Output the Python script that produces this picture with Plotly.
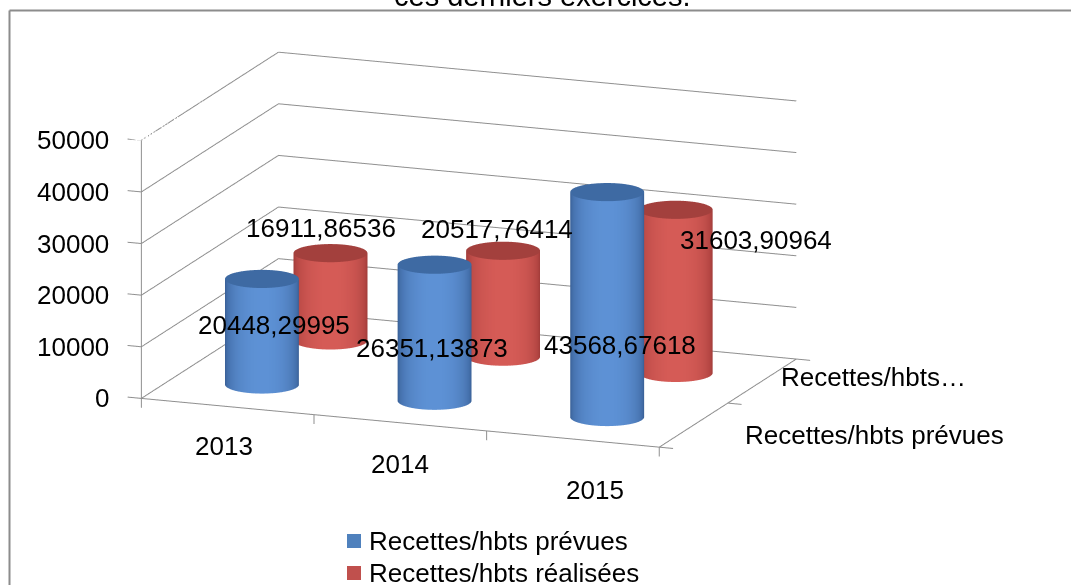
import numpy as np
import plotly.graph_objects as go

# ---------------- data ----------------
categories = ["2013", "2014", "2015"]
series_names = ["Recettes/hbts prévues", "Recettes/hbts réalisées"]
series_colors = ["#4F81BD", "#C0504D"]
depth_labels = ["Recettes/hbts prévues", "Recettes/hbts…"]
prevues = [20448.29995, 26351.13873, 43568.67618]
realisees = [16911.86536, 20517.76414, 31603.90964]
value_ticks = [0, 10000, 20000, 30000, 40000, 50000]
title_text = "ces derniers exercices."

# ---------------- scene frame / camera (orthographic, Excel-like 3-D rotation) ----------------
W, H = 1071, 585
XR = (-0.1, 3.1)          # category axis range (categories at 0.5, 1.5, 2.5)
YR = (0.0, 2.0)           # series (depth) axis range
ZR = (-2500.0, 50000.0)   # value axis range
THETA, PHI, DIST = 0.3655, 0.2486, 2.5
CEN = np.array([0.1947, 0.1288, -0.1412])
AX, AY, AZ = 2.0220, 1.3111, 0.9559
EYE = CEN + DIST * np.array([np.cos(PHI) * np.sin(THETA), -np.cos(PHI) * np.cos(THETA), np.sin(PHI)])

# ---------------- cylinders ----------------
RX = 0.2  # cylinder radius in category units


def shade(dark, light, t):
    t = np.clip(t, 0, 1) ** 0.8
    out = []
    for v in t:
        c = [int(d + (l - d) * v) for d, l in zip(dark, light)]
        out.append(f"rgb({c[0]},{c[1]},{c[2]})")
    return out


def series_mesh(values, ypos, dark, light, top, n=72):
    xs, ys, zs, I, J, Kk, cols = [], [], [], [], [], [], []
    rm = RX * AX / (XR[1] - XR[0])          # radius in scene units (round in the scene)
    ang = np.linspace(0, 2 * np.pi, n, endpoint=False)
    a_cam = np.arctan2(EYE[1] - CEN[1], EYE[0] - CEN[0])
    for ci, v in enumerate(values):
        xc = ci + 0.5
        dx = rm * np.cos(ang) * (XR[1] - XR[0]) / AX
        dy = rm * np.sin(ang) * (YR[1] - YR[0]) / AY
        o = len(xs)
        ring_c = shade(dark, light, np.cos(ang - a_cam))
        for zz in (0.0, v):
            xs += list(xc + dx); ys += list(ypos + dy); zs += [zz] * n
            cols += ring_c
        for k in range(n):
            b0, b1 = o + k, o + (k + 1) % n
            t0, t1 = o + n + k, o + n + (k + 1) % n
            I += [b0, b0]; J += [b1, t1]; Kk += [t1, t0]
        oc = len(xs)
        xs += list(xc + dx) + [xc]; ys += list(ypos + dy) + [ypos]; zs += [v] * (n + 1)
        cols += [f"rgb{top}"] * (n + 1)
        for k in range(n):
            I.append(oc + n); J.append(oc + k); Kk.append(oc + (k + 1) % n)
    return go.Mesh3d(x=xs, y=ys, z=zs, i=I, j=J, k=Kk, vertexcolor=cols,
                     lighting=dict(ambient=1, diffuse=0, specular=0, roughness=1, fresnel=0),
                     showlegend=False, hoverinfo="skip", showscale=False)


fig = go.Figure()

# walls gridlines, floor edges, value axis and tick marks
GRID = "#8f8f8f"
gx, gy, gz = [], [], []
for t in value_ticks:
    gx += [0, 0, 3, None]; gy += [0, 2, 2, None]; gz += [t, t, t, None]
gx += [0, 3, 3, None, 0, 0, None]; gy += [0, 0, 2, None, 0, 0, None]; gz += [0, 0, 0, None, 0, value_ticks[-1], None]
for t in value_ticks:
    gx += [0, -0.08, None]; gy += [0, 0, None]; gz += [t, t, None]
for k in range(len(categories) + 1):
    gx += [k, k, None]; gy += [0, 0, None]; gz += [0, -1800, None]
for j in range(len(series_names) + 1):
    gx += [3, 3.08, None]; gy += [j, j, None]; gz += [0, 0, None]
fig.add_trace(go.Scatter3d(x=gx, y=gy, z=gz, mode="lines", line=dict(color=GRID, width=2),
                           showlegend=False, hoverinfo="skip", connectgaps=False))

fig.add_trace(series_mesh(realisees, 1.5, (150, 52, 50), (214, 92, 87), (163, 64, 61)))
fig.add_trace(series_mesh(prevues, 0.5, (48, 84, 136), (94, 146, 214), (62, 106, 163)))

FONT = dict(family="Liberation Sans, Arial, sans-serif", size=26, color="#000000")


def fmt(v):
    return f"{v:.5f}".replace(".", ",")


scene_ann = []
for t in value_ticks:
    scene_ann.append(dict(x=0, y=0, z=t, text=str(t), showarrow=False, xanchor="right",
                          yanchor="middle", xshift=-30, font=FONT))
cat_shift = [(-4, -22), (0, -24), (22, -34)]
for ci, c in enumerate(categories):
    scene_ann.append(dict(x=ci + 0.5, y=0, z=0, text=c, showarrow=False, xanchor="center",
                          yanchor="top", xshift=cat_shift[ci][0], yshift=cat_shift[ci][1],
                          font=FONT))
depth_shift = [(49, -10), (17, 4)]
for si, lab in enumerate(depth_labels):
    scene_ann.append(dict(x=3, y=si + 0.5, z=0, text=lab, showarrow=False, xanchor="left",
                          yanchor="middle", xshift=depth_shift[si][0], yshift=depth_shift[si][1],
                          font=FONT))
# value-label placement: (height fraction, xanchor, yanchor, xshift, yshift)
place_prev = [(0.56, "center", "middle", 12, 0), (0.39, "center", "middle", -3, 0),
              (0.32, "center", "middle", 13, 0)]
place_real = [(1.0, "center", "bottom", -9, 8), (1.0, "center", "bottom", -6, 5),
              (1.0, "left", "middle", 2, -30)]
for ci, v in enumerate(prevues):
    zf, xa, ya, xs_, ys_ = place_prev[ci]
    scene_ann.append(dict(x=ci + 0.5, y=0.5, z=v * zf, text=fmt(v), showarrow=False,
                          xanchor=xa, yanchor=ya, xshift=xs_, yshift=ys_, font=FONT))
for ci, v in enumerate(realisees):
    zf, xa, ya, xs_, ys_ = place_real[ci]
    scene_ann.append(dict(x=ci + 0.5, y=1.5, z=v * zf, text=fmt(v), showarrow=False,
                          xanchor=xa, yanchor=ya, xshift=xs_, yshift=ys_, font=FONT))

# legend (square swatch + text) at the bottom centre
legend_shapes, legend_ann = [], []
for i, (name, col) in enumerate(zip(series_names, series_colors)):
    yc = 1 - (541 + 32 * i) / H
    legend_shapes.append(dict(type="rect", xref="paper", yref="paper",
                              x0=347 / W, x1=361 / W, y0=yc - 7 / H, y1=yc + 7 / H,
                              fillcolor=col, line=dict(width=0)))
    legend_ann.append(dict(x=367 / W, y=yc, xref="paper", yref="paper", text=name,
                           showarrow=False, xanchor="left", yanchor="middle", font=FONT))

hidden = dict(visible=False, showgrid=False, zeroline=False, showbackground=False,
              showspikes=False)
fig.update_layout(
    width=W, height=H, margin=dict(l=0, r=0, t=0, b=0),
    paper_bgcolor="white", plot_bgcolor="rgba(0,0,0,0)",
    font=FONT, showlegend=False,
    xaxis=dict(visible=False), yaxis=dict(visible=False),
    scene=dict(
        domain=dict(x=[0, 1], y=[0, 1]),
        xaxis=dict(range=list(XR), autorange=False, **hidden),
        yaxis=dict(range=list(YR), autorange=False, **hidden),
        zaxis=dict(range=list(ZR), autorange=False, **hidden),
        aspectmode="manual", aspectratio=dict(x=AX, y=AY, z=AZ),
        camera=dict(eye=dict(x=float(EYE[0]), y=float(EYE[1]), z=float(EYE[2])),
                    center=dict(x=float(CEN[0]), y=float(CEN[1]), z=float(CEN[2])),
                    up=dict(x=0, y=0, z=1), projection=dict(type="orthographic")),
        bgcolor="rgba(0,0,0,0)",
        annotations=scene_ann,
    ),
    annotations=[
        dict(x=542 / W, y=1 - 14 / H, xref="paper", yref="paper", text=title_text,
             showarrow=False, xanchor="center", yanchor="bottom",
             font=dict(family=FONT["family"], size=29, color="#000000")),
    ] + legend_ann,
    shapes=[dict(type="line", xref="paper", yref="paper", x0=9.5 / W, x1=1.0,
                 y0=1 - 10.5 / H, y1=1 - 10.5 / H, line=dict(color="#8c8c8c", width=2)),
            dict(type="line", xref="paper", yref="paper", x0=9.5 / W, x1=9.5 / W,
                 y0=0, y1=1 - 10.5 / H, line=dict(color="#8c8c8c", width=2))]
           + legend_shapes,
    hovermode=False,
)

fig.write_html("out.html", config={"displayModeBar": False},
               post_script="document.body.style.margin='0';document.body.style.overflow='hidden';")
